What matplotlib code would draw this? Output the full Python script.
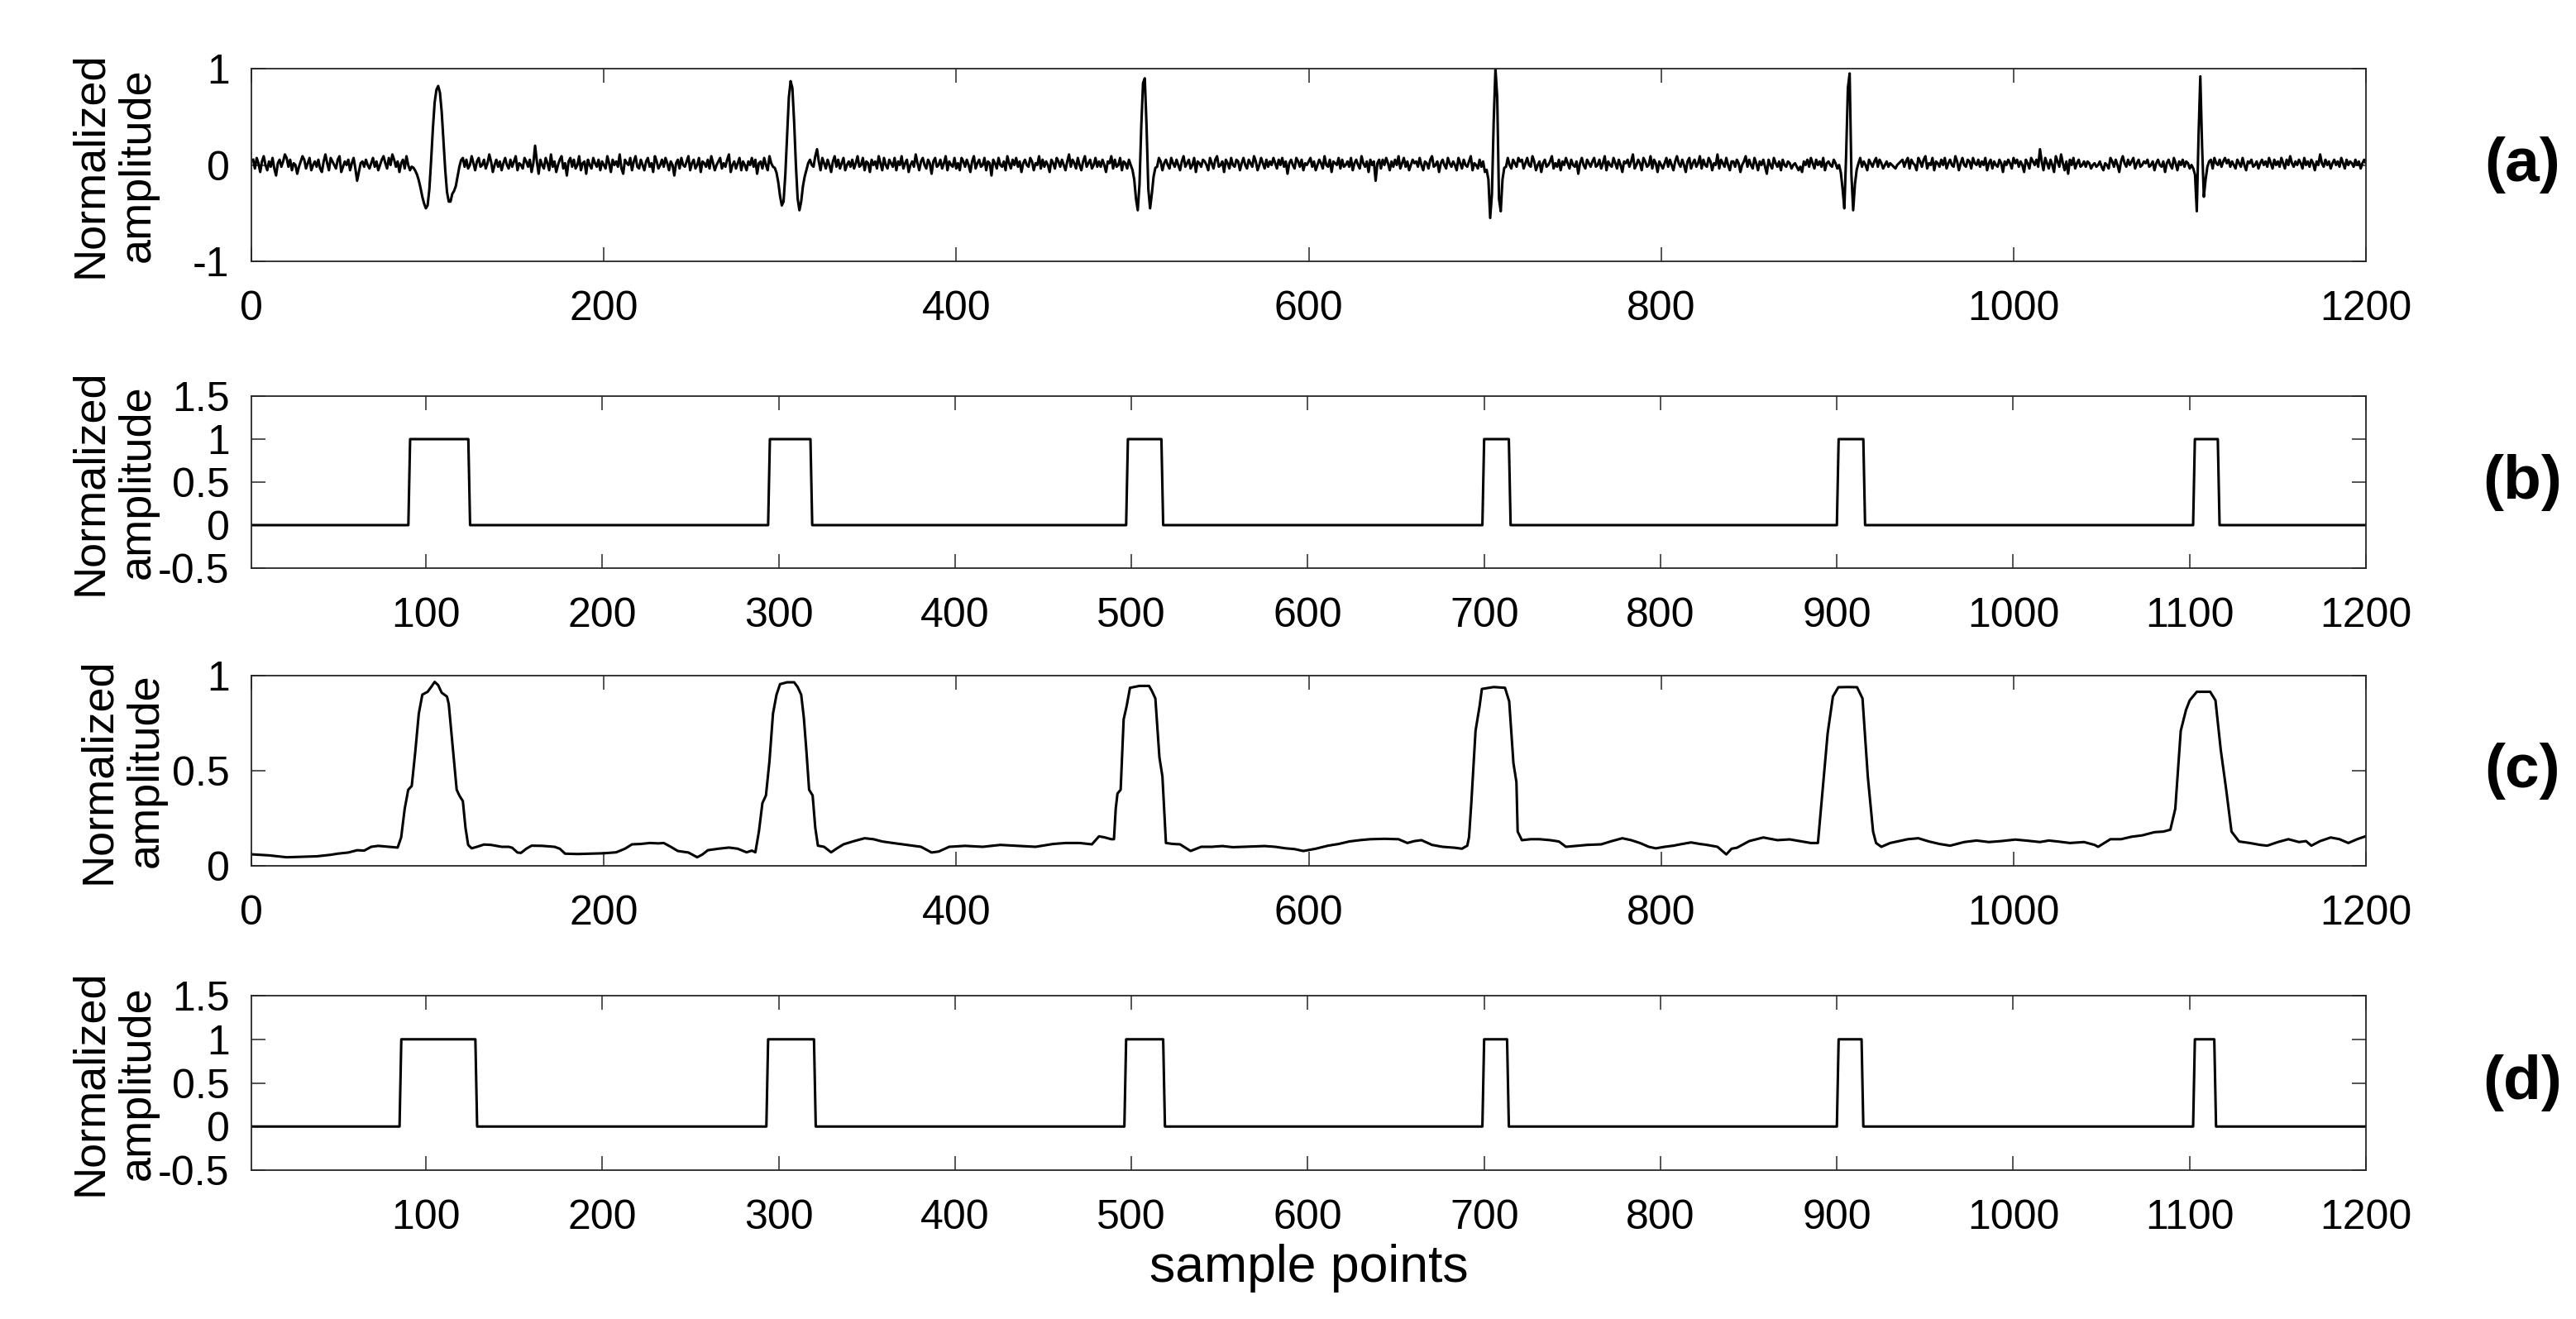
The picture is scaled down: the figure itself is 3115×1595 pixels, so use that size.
"""Four stacked traces: noisy wavelet record, two picked windows and a smooth detector output."""

import numpy as np
import matplotlib

matplotlib.use("Agg")
import matplotlib.pyplot as plt  # noqa: E402

plt.rcParams["font.family"] = ["Liberation Sans", "DejaVu Sans"]

# ---- data ----------------------------------------------------------------------------
# (a) background noise in units of NOISE_UNIT, samples 1..1200 (rows of 20)
NOISE_UNIT = 1 / 55
noise_a = [
    3, -2, 4, 1, -4, 2, 5, 0, -3, 2, -1, 4, -2, -6, 1, 3, -1, 2, 6, 4,
    -1, 3, -3, 1, 0, -5, -1, 2, 5, 3, -2, 1, 4, -3, 0, 2, -1, 3, -2, -4,
    2, 6, 1, -3, 4, 2, 0, -2, 3, 5, -4, -1, 2, 0, 3, -3, 1, 4, -2, -9,
    -4, 1, 2, -1, 3, 0, -2, 1, 4, -1, 2, -3, 0, 3, 5, 1, -2, 4, 0, 6,
    3, -1, 2, -4, 1, 3, -2, 5, 0, -3, -1, -4, 2, -3, 1, 4, -2, 3, -1, 2,
    0, -2, 3, 1, -3, 5, 2, -1, 4, 0, -2, 3, -1, 2, 6, -1, -3, 2, 0, 4,
    -1, 3, -2, 0, 5, 1, -3, 2, 4, -1, 0, 3, -2, 1, 6, 2, -4, 0, 3, -1,
    2, -3, 1, 4, 0, -2, 3, -1, 2, 5, -3, 1, 0, -2, 4, 2, -1, 3, -4, 1,
    11, 2, -5, 3, 0, -2, 4, 1, -3, 6, -1, 2, -4, 0, 3, 5, -2, 1, -6, 2,
    4, -1, 3, -2, 0, 5, -3, 1, 2, -5, 3, 0, -2, 4, 1, -1, 3, -3, 2, 0,
    -2, 5, 1, -4, 3, 0, 2, -1, 6, -2, -5, 3, 1, 0, 4, -3, 2, 5, -1, -2,
    3, 0, -3, 2, 4, -1, 1, -4, 5, 2, -2, 0, 3, -1, 4, 1, -3, 2, 0, -6,
    1, 3, -2, 4, 0, -1, 2, 5, -3, 1, 3, -2, 0, 4, -4, 2, 1, -1, 3, -2,
    5, 1, -3, 0, 2, 4, -2, 1, -1, 3, 6, -4, 0, 2, -2, 1, 4, -3, 2, 0,
    -3, 2, 0, 4, -1, 3, -5, 1, 2, -2, 4, 0, -3, 5, 1, -1, 2, -4, 3, 1,
    0, 2, -1, 3, -4, 1, 5, -2, 0, 3, -1, 2, -3, 4, 1, -2, 3, 0, -1, 5,
    9, 2, -3, 4, 1, -2, 3, 0, -4, 2, 5, -1, 3, -2, 1, 4, -3, 0, 2, -1,
    3, -2, 1, 5, -1, 0, 4, -3, 2, 1, -4, 3, 0, 2, -2, 5, 1, -3, 4, 0,
    -2, 3, 1, -1, 4, -3, 2, 0, 5, -2, 1, 3, -4, 0, 2, -1, 6, 1, -3, 2,
    4, 0, -2, 3, 1, -5, 2, 4, -1, 0, 3, -2, 1, 5, -3, 2, 0, -1, 4, -2,
    1, -3, 4, 2, -1, 3, 0, -4, 2, 5, -2, 1, 3, -1, 0, 4, -3, 2, 1, -6,
    3, 1, -2, 4, 0, -1, 2, -3, 5, 1, -2, 3, 0, 4, -1, 2, -4, 1, 3, 0,
    -1, 4, 2, -3, 1, 0, 5, -2, 3, -1, 2, 0, -4, 3, 1, -2, 4, 2, -1, 3,
    0, -3, 2, 6, -1, 3, 1, -2, 4, 0, -3, 2, 5, -1, 1, 3, -2, 0, 4, -1,
    2, -1, 3, 0, -4, 2, 1, 5, -2, 3, -1, 0, 4, -3, 2, 1, -2, 3, 0, -1,
    3, -2, 1, 4, -1, 0, 2, -3, 5, 1, -2, 3, 0, -1, 4, 2, -3, 1, 3, 0,
    -2, 4, 1, -1, 3, 0, -3, 2, 5, -1, 1, 3, -2, 0, 4, -4, 2, 1, -1, 3,
    2, 0, -3, 4, 1, -2, 3, 5, -1, 0, 2, -4, 3, 1, -2, 4, 0, -1, 3, 2,
    -3, 1, 4, 0, -2, 3, 1, -1, 5, 2, -3, 0, 4, 1, -2, 3, -1, 2, 0, 4,
    1, -2, 3, 0, 4, -1, 2, -5, 1, 3, 0, -2, 4, 2, -1, 3, -3, 1, 0, 2,
    4, -1, 2, -3, 0, 3, 1, -2, 5, 0, -1, 3, -4, 2, 1, 0, 4, -2, 3, -1,
    0, 2, -1, 4, -3, 1, 3, 0, -2, 5, 1, -1, 2, -4, 3, 0, 2, -9, 1, 3,
    -2, 3, 0, 4, 1, -3, 2, -1, 3, 0, 5, -2, 1, 4, -1, 2, -3, 0, 3, 1,
    2, -1, 4, 0, -3, 2, 1, -2, 3, 5, -1, 0, 2, -4, 1, 3, 0, -2, 4, 1,
    -1, 2, 0, -3, 4, 1, -2, 3, 0, -1, 2, 5, -3, 1, 0, -2, 3, -1, 2, -4,
    1, -3, 2, 0, -1, -3, -5, -2, 1, 2, 3, -1, 4, 0, -2, 3, 1, -1, 4, 2,
    3, -2, 1, 4, 0, -1, 5, 2, -3, 0, 2, -4, 1, 3, -1, 0, 2, 5, -2, 1,
    -1, 3, -3, 2, 0, 4, 1, -2, 3, 0, -1, 2, -5, 1, 4, 0, -2, 3, 1, -1,
    2, 4, -1, 0, 3, -2, 1, 5, -3, 2, 0, -1, 4, 1, -2, 3, 0, -4, 2, 1,
    3, -1, 2, 6, -2, 0, 3, 1, -3, 4, 2, -1, 0, 5, -2, 3, 1, -4, 2, 0,
    -2, 1, 4, -1, 3, 0, -3, 2, 5, 1, -1, 3, 0, -4, 2, 4, -2, 1, 3, -1,
    1, 5, -2, 3, 0, -1, 4, 2, -3, 1, 0, 6, -2, 3, 1, -1, 4, 0, -3, 2,
    2, -1, 3, 1, -4, 0, 2, 5, -1, 3, 0, -2, 4, 1, -3, 2, 0, 3, -1, -5,
    3, 0, -2, 4, 1, -1, 2, -3, 3, 0, -1, 2, 1, -2, 0, 1, -1, -3, -1, -4,
    2, 0, 3, -1, 4, 1, -2, 3, 0, 2, -1, 4, -3, 1, 2, 0, -1, 3, 1, -2,
    0, 2, -3, 1, -4, 2, -1, 3, 0, -2, 3, 1, 4, -1, 2, 0, -3, 3, 1, -1,
    2, 4, -1, 3, 1, -2, 0, 2, -1, 1, 0, -1, -2, 0, 1, 2, 3, -1, 2, 4,
    -2, 3, 1, 0, -3, 4, 2, -1, 3, 5, -2, 1, 0, 4, -3, 2, 1, -1, 3, 0,
    4, -2, 1, 3, 0, -1, 5, 2, -3, 1, 4, 0, -1, 3, 2, -2, 4, 1, 0, 3,
    -1, 2, 0, 4, -3, 1, 3, -2, 2, 0, -1, 3, 1, -4, 2, 0, 3, 1, -2, 4,
    1, 3, -1, 2, 0, -4, 3, 1, -2, 4, 2, 0, 3, -1, 9, 2, -3, 4, 1, -2,
    3, 0, -4, 5, 2, -1, 6, 1, -3, 2, -5, 3, 0, 4, -2, 1, 3, -1, 0, 2,
    -1, 2, 1, -2, 0, 1, -1, 0, 2, -1, -3, 1, 0, -2, 4, 2, -1, 3, 0, -4,
    2, 5, 1, -1, 3, 0, 2, 4, -2, 1, 3, -1, 0, 2, 1, 3, -1, 0, 2, -3,
    1, 3, 0, -1, 2, -4, 1, 3, 0, -2, 4, 1, -3, 2, 0, 3, -1, 2, 1, -2,
    0, -2, -4, 1, 2, 3, -1, -2, -1, 0, 2, 3, -2, 4, 1, 0, 3, -1, 2, 4,
    1, 3, -1, 2, 0, -2, 3, 1, -1, 4, 0, -3, 2, 1, 3, -1, 0, 2, -2, 1,
    3, 0, 2, -1, 4, 1, -2, 3, 0, 2, -1, 4, 1, -2, 3, 0, 5, 1, -1, 2,
    0, 3, 1, -2, 4, 0, 2, -1, 3, 1, -3, 2, 0, 6, 1, -1, 3, 0, 2, -2,
    1, 3, 0, 2, -1, 4, 1, -2, 3, 0, 2, 1, -1, 3, 0, 2, -2, 1, 3, 1,
]
# (a) the six wavelets, hundredths, first sample of each
wavelet_start = [92, 297, 500, 701, 902, 1103]
wavelets = [
    [-3, -6, -10, -16, -24, -33, -40, -45, -42, -25, 5, 38, 65, 78, 82, 75, 55, 25,
     -5, -28, -38, -38, -30, -27, -22, -12, -2, 5],
    [-3, -8, -18, -32, -42, -38, -10, 30, 70, 87, 80, 45, 0, -35, -47, -38, -22, -12, -5, 2],
    [-5, -15, -35, -47, -20, 40, 85, 90, 40, -25, -45, -30, -12, -3],
    [-5, -15, -55, -30, 45, 100, 70, -35, -48, -15, -3],
    [-8, -25, -45, 10, 80, 95, -10, -47, -20, -5],
    [-10, -48, 30, 92, 20, -33, -15, -2],
]

# (b) and (d): windows set to 1, (first, last) sample
windows_b = [(91, 124), (295, 318), (498, 517), (700, 714), (901, 915), (1103, 1116)]
windows_d = [(86, 128), (294, 320), (497, 518), (700, 713), (901, 914), (1103, 1114)]

# (c) detector output, (sample, value)
c_x = [1, 10, 20, 30, 37, 45, 49, 55, 60, 64, 68, 72, 78, 83, 85, 87, 89, 91, 93, 95, 97,
       100, 102, 104, 106, 108, 111, 112, 113, 115, 116.5, 118, 120, 121.5, 123, 125, 128,
       132, 136, 142, 146, 148, 151, 153, 156, 159, 165, 172, 175, 178, 185, 192, 200, 207,
       212, 216, 221, 226, 231, 234, 238, 242, 248, 253, 256, 259, 265, 271, 276, 281, 284,
       286, 288, 290, 292, 294, 296, 298, 300, 304, 308, 310, 312, 313.5, 315, 316.5, 318.5,
       320, 321.5, 325, 329, 332, 336, 342, 348, 353, 358, 364, 372, 380, 386, 390, 396,
       405, 415, 425, 435, 445, 455, 462, 470, 477, 481, 484, 488, 489.5, 490.5, 491.5,
       493.3, 495, 496.7, 498.6, 504, 509.4, 511, 513, 515.3, 517, 519, 523, 527, 533, 539,
       545, 551, 557, 563, 569, 575, 581, 587, 592, 597, 604, 611, 617, 623, 629, 635, 643,
       651, 656, 660, 664, 670, 676, 683, 687, 690, 691, 692.3, 694.7, 697, 698.3, 705,
       711.4, 713.8, 716.2, 717.9, 718.6, 721, 726, 731, 737, 742, 746, 752, 758, 766, 772,
       778, 783, 788, 793, 797, 802, 807, 812, 817, 822, 826, 832, 837, 840, 843, 850, 858,
       866, 873, 880, 885, 889, 891, 894.5, 897.5, 900.6, 906, 911.2, 914.3, 917.3, 920.3,
       922, 925, 930, 934, 940, 946, 952, 958, 964, 972, 979, 986, 993, 1001, 1008, 1015,
       1020, 1025, 1032, 1040, 1046, 1048, 1055, 1061, 1067, 1073, 1080, 1085, 1089,
       1091.8, 1094.9, 1097.9, 1100, 1104, 1111.6, 1114.6, 1117.6, 1120.7, 1123.7, 1128,
       1134, 1140, 1144, 1150, 1156, 1162, 1166, 1169, 1174, 1180, 1185, 1190, 1195, 1200]
c_y = [0.06, 0.055, 0.045, 0.048, 0.05, 0.058, 0.064, 0.07, 0.082, 0.08, 0.1, 0.105, 0.1,
       0.096, 0.15, 0.3, 0.4, 0.42, 0.6, 0.8, 0.9, 0.915, 0.94, 0.967, 0.95, 0.91, 0.89,
       0.85, 0.75, 0.55, 0.4, 0.37, 0.34, 0.2, 0.11, 0.092, 0.1, 0.112, 0.11, 0.1, 0.1,
       0.095, 0.07, 0.068, 0.09, 0.106, 0.105, 0.1, 0.09, 0.064, 0.062, 0.064, 0.066, 0.071,
       0.09, 0.113, 0.115, 0.12, 0.118, 0.12, 0.1, 0.078, 0.07, 0.045, 0.06, 0.082, 0.09,
       0.096, 0.09, 0.071, 0.08, 0.071, 0.18, 0.33, 0.37, 0.55, 0.8, 0.9, 0.955, 0.965,
       0.965, 0.94, 0.9, 0.78, 0.6, 0.4, 0.37, 0.2, 0.106, 0.1, 0.071, 0.09, 0.113, 0.13,
       0.145, 0.14, 0.128, 0.12, 0.11, 0.1, 0.07, 0.075, 0.1, 0.105, 0.1, 0.11, 0.105, 0.1,
       0.115, 0.12, 0.12, 0.113, 0.155, 0.15, 0.14, 0.14, 0.3, 0.38, 0.4, 0.77, 0.84,
       0.936, 0.946, 0.946, 0.92, 0.88, 0.57, 0.47, 0.12, 0.115, 0.113, 0.078, 0.1, 0.1,
       0.104, 0.098, 0.1, 0.102, 0.104, 0.1, 0.092, 0.088, 0.078, 0.09, 0.106, 0.115, 0.128,
       0.135, 0.14, 0.142, 0.14, 0.12, 0.13, 0.135, 0.11, 0.1, 0.095, 0.09, 0.106, 0.15,
       0.33, 0.71, 0.84, 0.93, 0.94, 0.936, 0.865, 0.54, 0.44, 0.18, 0.135, 0.14, 0.14,
       0.135, 0.128, 0.1, 0.105, 0.11, 0.113, 0.13, 0.145, 0.135, 0.12, 0.1, 0.092, 0.1,
       0.106, 0.115, 0.123, 0.115, 0.11, 0.1, 0.06, 0.09, 0.095, 0.13, 0.149, 0.135, 0.139,
       0.128, 0.12, 0.12, 0.33, 0.695, 0.89, 0.939, 0.94, 0.939, 0.88, 0.47, 0.18, 0.12,
       0.1, 0.12, 0.128, 0.14, 0.145, 0.128, 0.115, 0.106, 0.125, 0.133, 0.125, 0.13, 0.138,
       0.132, 0.125, 0.133, 0.128, 0.12, 0.125, 0.11, 0.1, 0.14, 0.14, 0.153, 0.16, 0.177,
       0.18, 0.19, 0.3, 0.71, 0.82, 0.87, 0.915, 0.915, 0.87, 0.61, 0.4, 0.18, 0.128, 0.12,
       0.11, 0.106, 0.125, 0.14, 0.125, 0.13, 0.106, 0.13, 0.149, 0.14, 0.12, 0.14, 0.156]

N_SAMPLES = 1200
PANEL_TAGS = ["(a)", "(b)", "(c)", "(d)"]
YLAB = "Normalized\namplitude"

# ---- assemble traces -----------------------------------------------------------------
n = np.arange(1, N_SAMPLES + 1)
sig_a = np.zeros(N_SAMPLES)
na = np.asarray(noise_a[:N_SAMPLES], float) * NOISE_UNIT
sig_a[:na.size] = na
for s0, w in zip(wavelet_start, wavelets):
    sig_a[s0 - 1:s0 - 1 + len(w)] = np.asarray(w, float) / 100.0


def window_trace(windows):
    y = np.zeros(N_SAMPLES)
    for a, b in windows:
        y[a - 1:b] = 1.0
    return y


sig_b = window_trace(windows_b)
sig_d = window_trace(windows_d)

# ---- figure --------------------------------------------------------------------------
W, H = 3115, 1595
fig = plt.figure(figsize=(W / 100, H / 100), dpi=100)
left, right = 304, 2861
boxes = [(83, 316), (479, 687), (817, 1047), (1204, 1415)]   # (top, bottom) in px
axes = []
for top, bot in boxes:
    axes.append(fig.add_axes([left / W, 1 - bot / H, (right - left) / W, (bot - top) / H]))

INK = "#262626"
FS = 36
for ax in axes:
    for sp in ax.spines.values():
        sp.set_color(INK); sp.set_linewidth(1.3)
    ax.tick_params(direction="in", top=True, right=True, length=12, width=1.1,
                   colors=INK, labelsize=FS, labelcolor="black")
    ax.tick_params(axis="x", pad=25)
    ax.tick_params(axis="y", pad=19)

ax_a, ax_b, ax_c, ax_d = axes
ax_a.plot(n, sig_a, color="black", lw=2.2)
ax_a.set_xlim(0, 1200); ax_a.set_ylim(-1, 1)
ax_a.set_xticks(range(0, 1201, 200)); ax_a.set_yticks([-1, 0, 1])
ax_a.set_yticklabels(["-1", "0", "1"])

for ax, y in ((ax_b, sig_b), (ax_d, sig_d)):
    ax.plot(n, y, color="black", lw=2.2)
    ax.set_xlim(1, 1200); ax.set_ylim(-0.5, 1.5)
    ax.set_xticks(range(100, 1201, 100)); ax.set_yticks([-0.5, 0, 0.5, 1, 1.5])
    ax.set_yticklabels(["-0.5", "0", "0.5", "1", "1.5"])

ax_c.plot(c_x, c_y, color="black", lw=2.2)
ax_c.set_xlim(0, 1200); ax_c.set_ylim(0, 1)
ax_c.set_xticks(range(0, 1201, 200)); ax_c.set_yticks([0, 0.5, 1])
ax_c.set_yticklabels(["0", "0.5", "1"])

label_x = [-0.044, -0.044, -0.040, -0.044]   # (c) has narrower tick labels
for ax, tag, lx in zip(axes, PANEL_TAGS, label_x):
    ax.set_ylabel(YLAB, fontsize=39, linespacing=1.2)
    ax.yaxis.set_label_coords(lx, 0.5)
    ax.text(1.074, 0.5, tag, transform=ax.transAxes, fontsize=54, fontweight="bold",
            ha="center", va="center")
ax_d.set_xlabel("sample points", fontsize=45)
ax_d.xaxis.set_label_coords(0.5, -0.42)

fig.savefig("out.png", dpi=100)
